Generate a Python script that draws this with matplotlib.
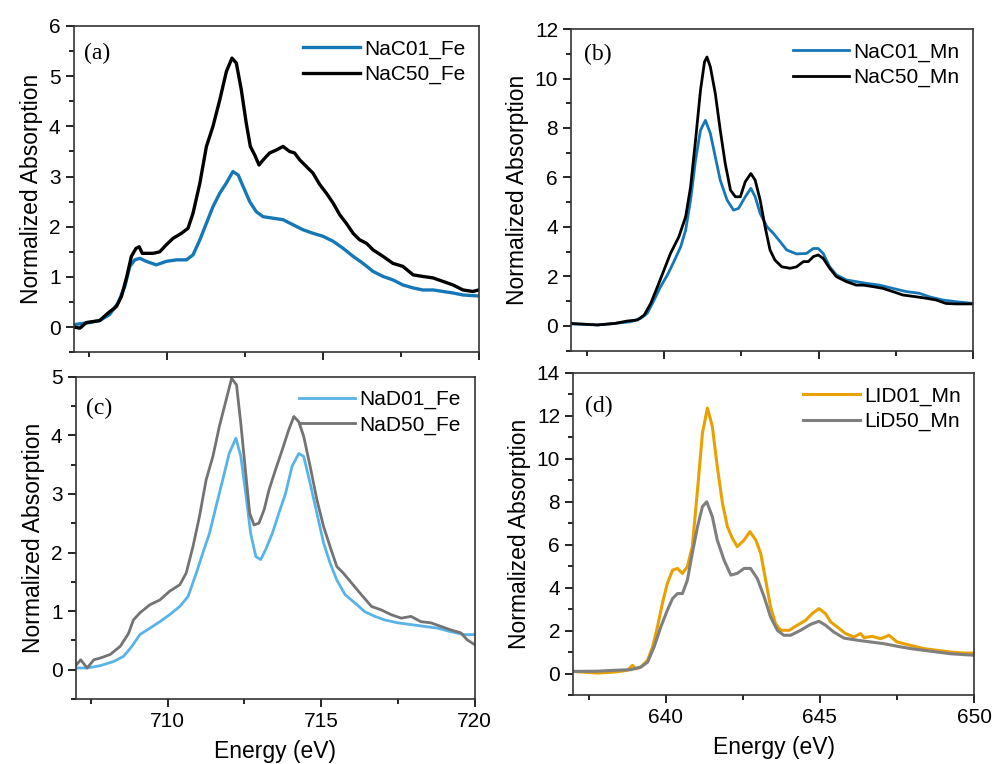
import matplotlib.pyplot as plt
from matplotlib.ticker import MultipleLocator

# Fe L-edge, NaC samples
fe_c_e = [707.0, 707.2, 707.4, 707.83, 708.1, 708.37, 708.53, 708.7, 708.85, 709.0, 709.1, 709.2,
          709.55, 709.76, 709.97, 710.19, 710.46, 710.67, 710.83, 711.05, 711.26, 711.47, 711.69,
          711.9, 712.08, 712.22, 712.38, 712.54, 712.67, 712.81, 712.95, 713.08, 713.29, 713.51,
          713.72, 713.93, 714.09, 714.26, 714.47, 714.68, 714.9, 715.11, 715.33, 715.54, 715.75,
          715.97, 716.18, 716.4, 716.61, 716.93, 717.25, 717.57, 717.9, 718.21, 718.54, 718.86,
          719.18, 719.5, 719.82, 720.0]
nac50_fe = [0.0, -0.02, 0.09, 0.13, 0.28, 0.41, 0.61, 1.0, 1.41, 1.57, 1.6, 1.47,
            1.47, 1.5, 1.64, 1.77, 1.87, 1.97, 2.27, 2.87, 3.6, 4.0, 4.53,
            5.09, 5.36, 5.26, 4.73, 4.06, 3.6, 3.43, 3.23, 3.33, 3.47, 3.53,
            3.6, 3.5, 3.47, 3.33, 3.2, 3.07, 2.84, 2.67, 2.47, 2.24, 2.07,
            1.87, 1.74, 1.67, 1.54, 1.41, 1.27, 1.21, 1.04, 1.01, 0.98, 0.91,
            0.84, 0.74, 0.71, 0.74]

fe_c01_e = [707.0, 707.4, 707.83, 708.15, 708.42, 708.64, 708.8, 708.96, 709.12, 709.33, 709.65,
            709.97, 710.3, 710.62, 710.83, 711.05, 711.26, 711.47, 711.69, 711.9, 712.11, 712.28,
            712.44, 712.65, 712.86, 713.08, 713.4, 713.72, 714.04, 714.36, 714.68, 715.0, 715.33,
            715.65, 715.97, 716.29, 716.61, 716.93, 717.25, 717.57, 717.9, 718.21, 718.54, 718.86,
            719.18, 719.5, 720.0]
nac01_fe = [0.05, 0.08, 0.13, 0.25, 0.48, 0.81, 1.21, 1.34, 1.37, 1.31, 1.24,
            1.31, 1.34, 1.34, 1.44, 1.74, 2.07, 2.4, 2.67, 2.87, 3.1, 3.03,
            2.8, 2.5, 2.3, 2.2, 2.17, 2.14, 2.04, 1.94, 1.87, 1.81, 1.71,
            1.57, 1.41, 1.27, 1.11, 1.01, 0.94, 0.84, 0.78, 0.74, 0.74, 0.71,
            0.68, 0.64, 0.62]

# Mn L-edge, NaC samples
mn_c50_e = [637.0, 637.85, 638.4, 638.82, 639.14, 639.36, 639.57, 639.79, 640.0, 640.21, 640.48,
            640.7, 640.86, 641.02, 641.18, 641.31, 641.39, 641.5, 641.66, 641.82, 641.98, 642.15,
            642.31, 642.47, 642.63, 642.81, 642.95, 643.11, 643.27, 643.43, 643.59, 643.81, 644.08,
            644.29, 644.51, 644.67, 644.83, 644.99, 645.15, 645.36, 645.58, 645.9, 646.22, 646.44,
            646.76, 647.08, 647.4, 647.73, 648.15, 648.48, 648.8, 649.12, 649.44, 650.0]
nac50_mn = [0.1, 0.04, 0.1, 0.2, 0.24, 0.44, 0.91, 1.59, 2.26, 2.93, 3.6,
            4.41, 5.62, 7.5, 9.52, 10.67, 10.87, 10.47, 9.39, 7.91, 6.57, 5.49,
            5.22, 5.22, 5.83, 6.16, 5.89, 5.09, 4.01, 3.07, 2.66, 2.39, 2.33,
            2.39, 2.6, 2.6, 2.8, 2.87, 2.73, 2.33, 1.99, 1.79, 1.65, 1.65,
            1.59, 1.52, 1.39, 1.25, 1.18, 1.12, 1.05, 0.91, 0.89, 0.89]

mn_c01_e = [637.0, 637.85, 638.4, 638.93, 639.25, 639.46, 639.68, 639.89, 640.11, 640.32, 640.54,
            640.7, 640.86, 641.02, 641.18, 641.34, 641.5, 641.66, 641.82, 642.04, 642.25, 642.41,
            642.63, 642.81, 642.95, 643.11, 643.33, 643.54, 643.76, 643.97, 644.29, 644.61, 644.83,
            644.99, 645.15, 645.36, 645.58, 645.9, 646.22, 646.55, 646.97, 647.4, 647.83, 648.26,
            648.58, 649.01, 649.44, 650.0]
nac01_mn = [0.08, 0.04, 0.1, 0.17, 0.31, 0.51, 1.05, 1.59, 2.06, 2.6, 3.2,
            3.87, 5.09, 6.7, 7.91, 8.31, 7.78, 6.83, 5.89, 5.09, 4.68, 4.75,
            5.22, 5.56, 5.22, 4.55, 4.01, 3.74, 3.4, 3.07, 2.91, 2.93, 3.13,
            3.13, 2.93, 2.39, 2.06, 1.86, 1.79, 1.72, 1.65, 1.52, 1.39, 1.32,
            1.18, 1.05, 0.98, 0.91]

# Fe L-edge, NaD samples
fe_d50_e = [707.03, 707.16, 707.37, 707.59, 707.8, 708.12, 708.45, 708.72, 708.88, 709.09, 709.42,
            709.74, 710.06, 710.39, 710.6, 710.82, 711.03, 711.25, 711.47, 711.68, 711.9, 712.08,
            712.24, 712.38, 712.54, 712.67, 712.81, 712.97, 713.14, 713.3, 713.51, 713.73, 713.94,
            714.11, 714.27, 714.43, 714.64, 714.86, 715.08, 715.29, 715.51, 715.72, 715.99, 716.31,
            716.64, 716.96, 717.28, 717.61, 717.93, 718.25, 718.58, 718.9, 719.22, 719.55, 719.76,
            720.0]
nad50_fe = [0.09, 0.17, 0.03, 0.17, 0.2, 0.26, 0.4, 0.62, 0.85, 0.97, 1.11,
            1.19, 1.34, 1.45, 1.65, 2.1, 2.61, 3.24, 3.64, 4.15, 4.6, 4.97,
            4.86, 4.2, 3.35, 2.67, 2.47, 2.5, 2.73, 3.07, 3.41, 3.75, 4.09,
            4.32, 4.23, 3.98, 3.47, 2.9, 2.44, 2.1, 1.76, 1.65, 1.48, 1.28,
            1.08, 1.02, 0.94, 0.88, 0.91, 0.82, 0.8, 0.74, 0.68, 0.63, 0.51,
            0.43]

fe_d01_e = [707.03, 707.37, 707.8, 708.23, 708.56, 708.83, 709.09, 709.42, 709.74, 710.06, 710.39,
            710.66, 710.93, 711.14, 711.36, 711.57, 711.79, 712.0, 712.22, 712.38, 712.54, 712.7,
            712.87, 713.03, 713.19, 713.41, 713.62, 713.84, 714.05, 714.27, 714.43, 714.64, 714.86,
            715.08, 715.29, 715.51, 715.78, 716.1, 716.42, 716.75, 717.07, 717.5, 717.93, 718.36,
            718.79, 719.22, 719.65, 720.0]
nad01_fe = [0.03, 0.03, 0.07, 0.14, 0.23, 0.4, 0.6, 0.71, 0.82, 0.94, 1.08,
            1.25, 1.65, 1.99, 2.33, 2.78, 3.24, 3.69, 3.95, 3.64, 3.01, 2.33,
            1.93, 1.88, 2.05, 2.33, 2.67, 3.01, 3.47, 3.69, 3.64, 3.18, 2.67,
            2.16, 1.82, 1.53, 1.28, 1.14, 0.99, 0.91, 0.85, 0.8, 0.77, 0.74,
            0.71, 0.65, 0.6, 0.6]

# Mn L-edge, LiD samples
mn_d01_e = [637.0, 637.79, 638.33, 638.76, 638.92, 639.03, 639.19, 639.41, 639.57, 639.73, 639.89,
            640.05, 640.22, 640.38, 640.54, 640.7, 640.86, 641.03, 641.19, 641.35, 641.51, 641.67,
            641.84, 642.0, 642.16, 642.32, 642.54, 642.73, 642.92, 643.08, 643.24, 643.4, 643.56,
            643.73, 644.0, 644.27, 644.54, 644.75, 644.97, 645.18, 645.35, 645.56, 645.83, 646.1,
            646.32, 646.43, 646.7, 646.97, 647.24, 647.5, 647.94, 648.37, 648.8, 649.23, 649.67,
            650.0]
lid01_mn = [0.11, 0.03, 0.08, 0.16, 0.39, 0.23, 0.31, 0.62, 1.24, 2.18, 3.27,
            4.2, 4.82, 4.9, 4.67, 4.98, 5.91, 8.55, 11.2, 12.36, 11.51, 9.64,
            7.93, 6.84, 6.3, 5.91, 6.22, 6.61, 6.22, 5.6, 4.35, 3.11, 2.33,
            2.02, 2.02, 2.26, 2.49, 2.8, 3.03, 2.8, 2.41, 2.18, 1.87, 1.71,
            1.87, 1.68, 1.74, 1.63, 1.79, 1.48, 1.32, 1.17, 1.09, 1.01, 0.96,
            0.96]

mn_d50_e = [637.0, 637.79, 638.33, 638.87, 639.19, 639.41, 639.62, 639.84, 640.05, 640.22, 640.38,
            640.54, 640.7, 640.86, 641.03, 641.19, 641.33, 641.51, 641.67, 641.89, 642.11, 642.32,
            642.54, 642.75, 642.97, 643.19, 643.4, 643.62, 643.83, 644.05, 644.37, 644.7, 644.97,
            645.18, 645.45, 645.78, 646.21, 646.64, 647.07, 647.5, 647.94, 648.37, 648.8, 649.23,
            649.67, 650.0]
lid50_mn = [0.11, 0.12, 0.16, 0.19, 0.31, 0.54, 1.24, 2.18, 2.95, 3.5, 3.73,
            3.73, 4.35, 5.6, 6.84, 7.78, 8.0, 7.31, 6.22, 5.29, 4.59, 4.67,
            4.9, 4.9, 4.43, 3.58, 2.64, 2.02, 1.79, 1.79, 2.02, 2.3, 2.44,
            2.26, 1.94, 1.66, 1.56, 1.48, 1.4, 1.28, 1.17, 1.09, 1.01, 0.93,
            0.89, 0.86]

plt.rcParams['font.family'] = 'Liberation Sans'

fig = plt.figure(figsize=(9.97, 7.64), dpi=100)

ax_a = fig.add_axes([0.074, 0.539, 0.406, 0.427])
ax_b = fig.add_axes([0.573, 0.541, 0.403, 0.421])
ax_c = fig.add_axes([0.076, 0.085, 0.400, 0.422])
ax_d = fig.add_axes([0.575, 0.090, 0.402, 0.422])


def style_axis(ax, letter, xlim, ylim, ymajor, yminor, show_x, letter_pos):
    ax.set_xlim(*xlim)
    ax.set_ylim(*ylim)
    ax.xaxis.set_major_locator(MultipleLocator(5))
    ax.xaxis.set_minor_locator(MultipleLocator(2.5))
    ax.yaxis.set_major_locator(MultipleLocator(ymajor))
    ax.yaxis.set_minor_locator(MultipleLocator(yminor))
    ax.tick_params(which='both', direction='out', top=False, right=False, labelsize=15, width=1.2)
    ax.tick_params(which='major', length=6)
    ax.tick_params(which='minor', length=3.5)
    for s in ax.spines.values():
        s.set_linewidth(1.2)
        s.set_color('#333333')
    ax.set_ylabel("Normalized Absorption", fontsize=16.5, labelpad=4)
    if show_x:
        ax.set_xlabel("Energy (eV)", fontsize=16.5, labelpad=6)
    else:
        ax.tick_params(axis='x', labelbottom=False)
    ax.text(letter_pos[0], letter_pos[1], letter, transform=ax.transAxes,
            family='Liberation Serif', fontsize=17, va='center', ha='left')
    ax.legend(loc='upper right', frameon=False, fontsize=15, handlelength=2.7,
              handletextpad=0.2, labelspacing=0.3, borderaxespad=0.25)


ax_a.plot(fe_c01_e, nac01_fe, color='#1677b7', lw=2.4, label='NaC01_Fe')
ax_a.plot(fe_c_e, nac50_fe, color='black', lw=2.4, label='NaC50_Fe')
style_axis(ax_a, '(a)', (707, 720), (-0.5, 6), 1, 0.5, False, (0.025, 0.915))

ax_b.plot(mn_c01_e, nac01_mn, color='#1677b7', lw=2.0, label='NaC01_Mn')
ax_b.plot(mn_c50_e, nac50_mn, color='black', lw=2.0, label='NaC50_Mn')
style_axis(ax_b, '(b)', (637, 650), (-1, 12), 2, 1, False, (0.032, 0.922))

ax_c.plot(fe_d01_e, nad01_fe, color='#58b3e8', lw=2.0, label='NaD01_Fe')
ax_c.plot(fe_d50_e, nad50_fe, color='#737373', lw=2.0, label='NaD50_Fe')
style_axis(ax_c, '(c)', (707, 720), (-0.5, 5), 1, 0.5, True, (0.025, 0.902))

ax_d.plot(mn_d01_e, lid01_mn, color='#e8a100', lw=2.2, label='LID01_Mn')
ax_d.plot(mn_d50_e, lid50_mn, color='#7f7f7f', lw=2.2, label='LiD50_Mn')
style_axis(ax_d, '(d)', (637, 650), (-1, 14), 2, 1, True, (0.03, 0.895))

fig.savefig("out.png", dpi=100)
